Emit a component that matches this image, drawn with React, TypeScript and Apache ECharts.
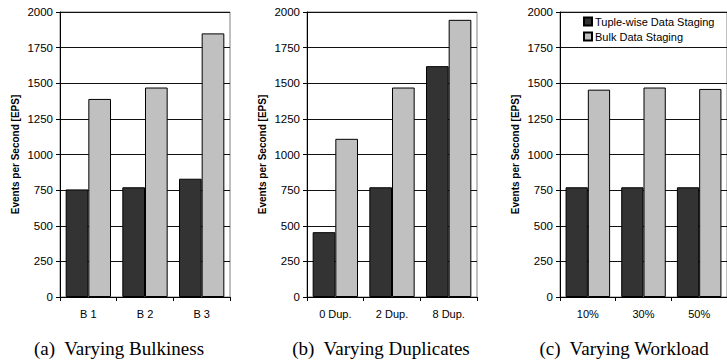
import React, { useEffect, useRef } from "react";
import * as echarts from "echarts";

const seriesNames = ["Tuple-wise Data Staging", "Bulk Data Staging"];
const catsA = ["B 1", "B 2", "B 3"];
const tupleA = [755, 770, 830];
const bulkA = [1390, 1470, 1850];
const catsB = ["0 Dup.", "2 Dup.", "8 Dup."];
const tupleB = [455, 770, 1620];
const bulkB = [1110, 1470, 1945];
const catsC = ["10%", "30%", "50%"];
const tupleC = [770, 770, 770];
const bulkC = [1455, 1470, 1460];
const captions = ["(a)  Varying Bulkiness", "(b)  Varying Duplicates", "(c)  Varying Workload"];
const yName = "Events per Second [EPS]";

const DARK = "#333333";
const LIGHT = "#c0c0c0";
const SANS = "Arial, 'Liberation Sans', sans-serif";
const SERIF = "'Times New Roman', 'Liberation Serif', serif";

export default function App() {
  const ref = useRef<HTMLDivElement>(null);
  useEffect(() => {
    if (!ref.current) return;
    const chart = echarts.init(ref.current, undefined, { renderer: "svg" });
    const lefts = [60, 307, 560];
    const cats = [catsA, catsB, catsC];
    const data = [
      [tupleA, bulkA],
      [tupleB, bulkB],
      [tupleC, bulkC],
    ];
    const grid = lefts.map((l) => ({
      left: l,
      top: 12,
      width: 170,
      height: 285,
      show: true,
      borderColor: "#808080",
      borderWidth: 1,
      backgroundColor: "transparent",
    }));
    const xAxis = cats.map((c, i) => ({
      type: "category" as const,
      gridIndex: i,
      data: c,
      axisLine: { lineStyle: { color: "#000", width: 1 } },
      axisTick: { show: true, length: 4, lineStyle: { color: "#000" } },
      axisLabel: { color: "#000", fontSize: 11, fontFamily: SANS, margin: 11 },
    }));
    const yAxis = cats.map((_, i) => ({
      type: "value" as const,
      gridIndex: i,
      min: 0,
      max: 2000,
      interval: 250,
      name: yName,
      nameLocation: "middle" as const,
      nameGap: 40,
      nameTextStyle: { color: "#000", fontSize: 10, fontWeight: "bold" as const, fontFamily: SANS },
      axisLine: { show: true, lineStyle: { color: "#000", width: 1 } },
      axisTick: { show: true, length: 4, lineStyle: { color: "#000" } },
      axisLabel: {
        color: "#000",
        fontSize: 11.5,
        fontFamily: SANS,
        margin: 7,
        formatter: (v: number) => String(v),
      },
      splitLine: { show: true, lineStyle: { color: "#111", width: 1 } },
    }));
    const series: any[] = [];
    data.forEach((pair, i) => {
      pair.forEach((vals, j) => {
        series.push({
          type: "bar",
          name: seriesNames[j],
          xAxisIndex: i,
          yAxisIndex: i,
          data: vals,
          barGap: "0%",
          barCategoryGap: "20%",
          itemStyle: { color: j === 0 ? DARK : LIGHT, borderColor: "#000", borderWidth: 1 },
        });
      });
    });
    const centers = [119, 381, 624];
    chart.setOption({
      animation: false,
      backgroundColor: "#fff",
      grid,
      xAxis,
      yAxis,
      series,
      legend: {
        data: seriesNames,
        orient: "vertical",
        left: 578,
        top: 11,
        itemWidth: 8,
        itemHeight: 8,
        itemGap: 4,
        icon: "rect",
        textStyle: { color: "#000", fontSize: 11, fontFamily: SANS, padding: [0, 0, 0, -2] },
      },
      graphic: captions.map((t, i) => ({
        type: "text",
        x: centers[i],
        y: 348,
        style: {
          text: t,
          fontSize: 19,
          fontFamily: SERIF,
          fill: "#000",
          align: "center",
          verticalAlign: "middle",
        },
      })),
    });
    return () => chart.dispose();
  }, []);
  return <div ref={ref} style={{ position: "fixed", left: 0, top: 0, width: 727, height: 362 }} />;
}
